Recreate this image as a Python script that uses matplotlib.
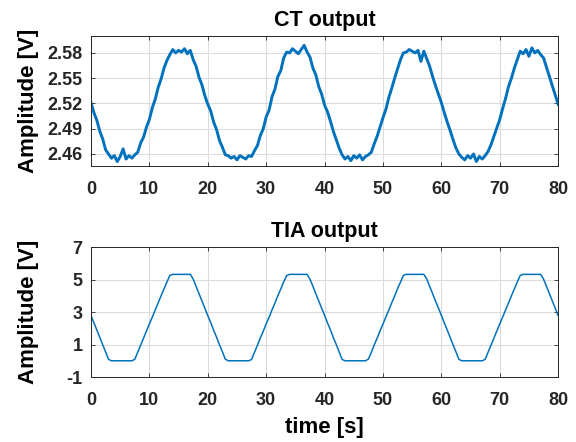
'''CT and TIA output traces'''
import matplotlib
matplotlib.use('Agg')
import matplotlib.pyplot as plt
import numpy as np

LABEL_SIZE = 16
TITLE_SIZE = 15.5
TICK_SIZE = 13
BLUE = '#0072BD'

# time axis, 0.5 s steps
time_s = np.arange(0, 80.5, 0.5)

# CT output in mV (one row per 20 s period)
ct_mv = [
    2521, 2509, 2500, 2487, 2478, 2465, 2460, 2455, 2458, 2451, 2457, 2466, 2454, 2458, 2455, 2459,
    2462, 2473, 2480, 2492, 2501, 2515, 2525, 2539, 2549, 2562, 2571, 2578, 2584, 2580, 2583, 2581,
    2585, 2579, 2583, 2572, 2564, 2551, 2542, 2529,
    2519, 2511, 2498, 2489, 2476, 2468, 2459, 2458, 2455, 2457, 2453, 2458, 2456, 2454, 2458, 2457,
    2464, 2470, 2482, 2490, 2504, 2512, 2528, 2537, 2552, 2559, 2574, 2581, 2580, 2585, 2582, 2579,
    2584, 2589, 2581, 2575, 2562, 2554, 2540, 2531,
    2518, 2510, 2499, 2487, 2477, 2467, 2459, 2454, 2457, 2452, 2458, 2455, 2459, 2453, 2457, 2459,
    2462, 2472, 2481, 2492, 2503, 2513, 2527, 2538, 2550, 2561, 2572, 2580, 2581, 2584, 2582, 2580,
    2583, 2570, 2582, 2573, 2564, 2552, 2541, 2531,
    2521, 2509, 2498, 2488, 2477, 2467, 2460, 2456, 2453, 2458, 2455, 2460, 2451, 2457, 2454, 2458,
    2463, 2471, 2481, 2491, 2501, 2514, 2526, 2540, 2550, 2562, 2572, 2582, 2579, 2584, 2576, 2586,
    2580, 2583, 2578, 2574, 2563, 2552, 2541, 2530,
    2519,
]

# TIA output in V
tia_v = [
    2.79, 2.34, 1.90, 1.44, 0.99, 0.55, 0.09, 0.00, 0.00, 0.00, 0.00, 0.00, 0.00, 0.00, 0.00, 0.09,
    0.52, 0.96, 1.40, 1.83, 2.27, 2.69, 3.13, 3.56, 4.00, 4.43, 4.85, 5.25, 5.32, 5.32, 5.32, 5.32,
    5.32, 5.32, 5.32, 5.03, 4.58, 4.13, 3.68, 3.24,
    2.78, 2.35, 1.89, 1.45, 0.98, 0.56, 0.10, 0.00, 0.00, 0.00, 0.00, 0.00, 0.00, 0.00, 0.00, 0.08,
    0.53, 0.95, 1.41, 1.82, 2.28, 2.68, 3.14, 3.55, 4.01, 4.42, 4.86, 5.24, 5.32, 5.32, 5.32, 5.32,
    5.32, 5.32, 5.32, 5.02, 4.59, 4.12, 3.69, 3.23,
    2.80, 2.33, 1.91, 1.43, 1.00, 0.54, 0.09, 0.00, 0.00, 0.00, 0.00, 0.00, 0.00, 0.00, 0.00, 0.10,
    0.51, 0.97, 1.39, 1.84, 2.26, 2.70, 3.12, 3.57, 3.99, 4.44, 4.84, 5.26, 5.32, 5.32, 5.32, 5.32,
    5.32, 5.32, 5.32, 5.04, 4.57, 4.14, 3.67, 3.25,
    2.79, 2.34, 1.90, 1.44, 0.99, 0.55, 0.09, 0.00, 0.00, 0.00, 0.00, 0.00, 0.00, 0.00, 0.00, 0.09,
    0.52, 0.96, 1.40, 1.83, 2.27, 2.69, 3.13, 3.56, 4.00, 4.43, 4.85, 5.25, 5.32, 5.32, 5.32, 5.32,
    5.32, 5.32, 5.32, 5.03, 4.58, 4.13, 3.68, 3.24,
    2.79,
]

ct_yticks = [2.46, 2.49, 2.52, 2.55, 2.58]
tia_yticks = [-1, 1, 3, 5, 7]
xticks = [0, 10, 20, 30, 40, 50, 60, 70, 80]

plt.rcParams['font.family'] = ['Liberation Sans', 'DejaVu Sans']
plt.rcParams['font.weight'] = 'bold'
plt.rcParams['axes.unicode_minus'] = False

fig = plt.figure(figsize=(5.76, 4.42), dpi=100)
ax1 = fig.add_axes([0.158, 0.6244, 0.811, 0.294])
ax2 = fig.add_axes([0.158, 0.147, 0.811, 0.294])


def style(ax):
    ax.grid(True, color='#dcdcdc', linewidth=0.8)
    ax.set_axisbelow(True)
    ax.tick_params(direction='in', top=True, right=True, length=3, width=0.6,
                   labelsize=TICK_SIZE, colors='#262626')
    ax.tick_params(axis='x', pad=10.5)
    ax.tick_params(axis='y', pad=6)
    for lbl in ax.get_xticklabels() + ax.get_yticklabels():
        lbl.set_fontweight('bold')
    for s in ax.spines.values():
        s.set_color('#262626')
        s.set_linewidth(0.7)
    ax.yaxis.set_label_coords(-0.112, 0.5)


# CT output
ax1.plot(time_s, np.array(ct_mv) / 1000, color=BLUE, linewidth=2.1)
ax1.set_xlim(0, 80)
ax1.set_ylim(2.4457, 2.600)
ax1.set_xticks(xticks)
ax1.set_yticks(ct_yticks)
ax1.set_yticklabels([f'{v:.2f}' for v in ct_yticks])
ax1.set_title('CT output', fontsize=TITLE_SIZE, fontweight='bold', pad=7)
ax1.set_ylabel('Amplitude [V]', fontsize=LABEL_SIZE, fontweight='bold')
style(ax1)

# TIA output
ax2.plot(time_s, tia_v, color=BLUE, linewidth=1.1)
ax2.set_xlim(0, 80)
ax2.set_ylim(-1, 7)
ax2.set_xticks(xticks)
ax2.set_yticks(tia_yticks)
ax2.set_title('TIA output', fontsize=TITLE_SIZE, fontweight='bold', pad=7)
ax2.set_ylabel('Amplitude [V]', fontsize=LABEL_SIZE, fontweight='bold')
ax2.set_xlabel('time [s]', fontsize=LABEL_SIZE, fontweight='bold')
ax2.xaxis.set_label_coords(0.5, -0.31)
style(ax2)

fig.savefig('out.png', dpi=100)
